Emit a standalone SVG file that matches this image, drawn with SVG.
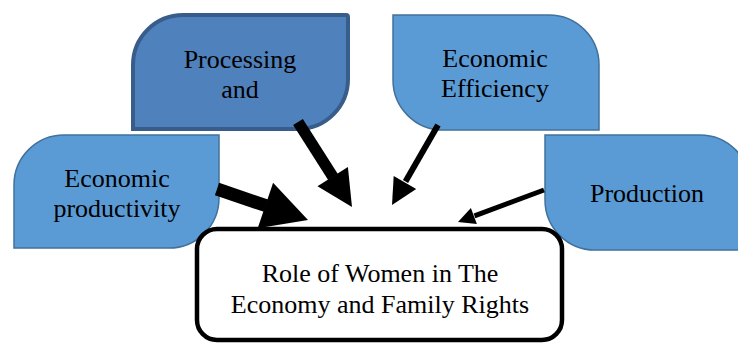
<svg xmlns="http://www.w3.org/2000/svg" width="738" height="344" viewBox="0 0 738 344">
  <style>
    .lbl { font-family: 'Liberation Serif', 'Times New Roman', serif; font-size: 26px; fill: #000; text-anchor: middle; }
    .blue { fill: #5b9bd5; stroke: #41719c; stroke-width: 1.5; }
    .dark { fill: #4f81bd; stroke: #385d8a; stroke-width: 4; }
    .core { fill: #fff; stroke: #000; stroke-width: 4.5; }
    .shaft { stroke: #000; stroke-linecap: butt; fill: none; }
    .head { fill: #000; }
  </style>

  <!-- upper-left factor -->
  <g id="processing">
    <path class="dark" d="M133,65 A50,50 0 0 1 183,15 L346,15 Q348,15 348,17 L348,79 A50,50 0 0 1 298,129 L133,129 Z"/>
    <text class="lbl" x="240" y="68">Processing</text>
    <text class="lbl" x="240" y="98">and</text>
  </g>

  <!-- upper-right factor -->
  <g id="efficiency">
    <path class="blue" d="M393,15 L549,15 A50,50 0 0 1 599,65 L599,130 L443,130 A50,50 0 0 1 393,80 Z"/>
    <text class="lbl" x="495" y="67">Economic</text>
    <text class="lbl" x="495" y="97">Efficiency</text>
  </g>

  <!-- left factor -->
  <g id="productivity">
    <path class="blue" d="M14,185 A50,50 0 0 1 64,135 L219,135 L219,198 A50,50 0 0 1 169,248 L14,248 Z"/>
    <text class="lbl" x="117" y="187">Economic</text>
    <text class="lbl" x="117" y="217">productivity</text>
  </g>

  <!-- right factor -->
  <g id="production">
    <path class="blue" d="M545,135 L700,135 A50,50 0 0 1 750,185 L750,250 L595,250 A50,50 0 0 1 545,200 Z"/>
    <text class="lbl" x="647" y="202">Production</text>
  </g>

  <!-- central topic -->
  <g id="role">
    <rect class="core" x="197" y="229" width="365" height="111" rx="20" ry="20"/>
    <text class="lbl" x="380" y="282">Role of Women in The</text>
    <text class="lbl" x="380" y="313">Economy and Family Rights</text>
  </g>

  <!-- arrows pointing into the central topic -->
  <g id="connectors">
    <g id="arrow-productivity">
      <line class="shaft" stroke-width="13" x1="217" y1="189" x2="266" y2="205.7"/>
      <polygon class="head" points="308,220 257.7,228.2 273.1,182.8"/>
    </g>
    <g id="arrow-processing">
      <line class="shaft" stroke-width="11.5" x1="298" y1="122" x2="333" y2="177"/>
      <polygon class="head" points="352,207 317.5,186.2 347.9,167.0"/>
    </g>
    <g id="arrow-efficiency">
      <line class="shaft" stroke-width="6" x1="438" y1="125" x2="405.5" y2="181.5"/>
      <polygon class="head" points="392,205 393.7,176.0 416.2,189.0"/>
    </g>
    <g id="arrow-production">
      <line class="shaft" stroke-width="5" x1="544" y1="190" x2="474.5" y2="215.9"/>
      <polygon class="head" points="458,222 470.9,208.1 476.9,224.1"/>
    </g>
  </g>
</svg>
